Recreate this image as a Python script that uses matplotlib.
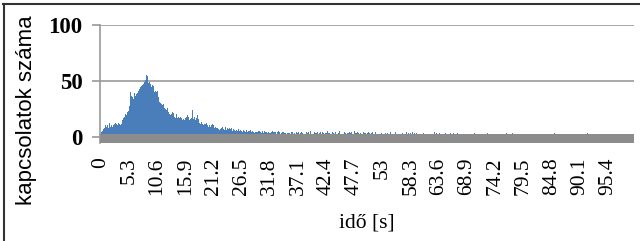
import numpy as np
import matplotlib
matplotlib.use("Agg")
from matplotlib import pyplot as plt
from matplotlib.lines import Line2D

# histogram of connection counts, one bin per 0.1 s
bin_width = 0.1
counts = [
    2, 4, 3, 5, 4, 7, 9, 8, 11, 10, 12, 9, 13, 10, 11, 8, 12, 10, 9, 11,
    10, 12, 9, 11, 10, 13, 11, 9, 12, 10, 11, 13, 10, 12, 9, 11, 12, 10, 13, 11,
    13, 15, 14, 17, 16, 18, 17, 20, 19, 21, 22, 24, 23, 30, 27, 33, 40, 34, 36, 32,
    35, 38, 34, 39, 37, 36, 40, 38, 35, 39, 37, 41, 40, 43, 42, 44, 41, 45, 43, 46,
    47, 50, 49, 53, 51, 57, 55, 52, 54, 50, 48, 46, 49, 45, 47, 44, 48, 46, 43, 45,
    42, 40, 38, 41, 39, 40, 37, 41, 38, 35, 33, 31, 30, 32, 29, 33, 28, 31, 29, 27,
    26, 24, 25, 22, 24, 23, 26, 22, 21, 20, 22, 19, 21, 20, 18, 22, 19, 21, 20, 18,
    19, 17, 20, 18, 17, 16, 18, 15, 17, 16, 18, 15, 17, 16, 15, 17, 16, 18, 15, 17,
    16, 18, 17, 19, 16, 18, 17, 15, 19, 16, 14, 17, 15, 24, 16, 14, 18, 13, 15, 16,
    17, 14, 19, 15, 16, 13, 12, 13, 11, 12, 13, 11, 12, 10, 13, 11, 12, 11, 13, 12,
    11, 10, 12, 9, 11, 10, 9, 11, 10, 8, 11, 9, 10, 9, 8, 10, 9, 11, 8, 9,
    8, 7, 9, 6, 8, 7, 6, 8, 7, 9, 6, 7, 8, 6, 7, 9, 7, 6, 8, 7,
    7, 6, 8, 5, 7, 6, 8, 7, 5, 6, 7, 8, 6, 5, 7, 6, 7, 5, 6, 7,
    6, 5, 7, 6, 13, 5, 6, 4, 5, 6, 5, 7, 4, 5, 6, 5, 4, 6, 5, 4,
    5, 4, 6, 5, 4, 5, 6, 4, 5, 3, 5, 4, 6, 4, 5, 4, 3, 5, 4, 5,
    4, 5, 3, 4, 5, 4, 3, 4, 5, 3, 4, 3, 4, 5, 3, 4, 4, 3, 5, 3,
    3, 4, 3, 5, 3, 4, 2, 4, 3, 4, 3, 2, 4, 3, 5, 3, 4, 3, 2, 4,
    3, 2, 4, 3, 4, 2, 3, 5, 3, 2, 4, 3, 2, 3, 4, 3, 5, 2, 3, 4,
    2, 4, 3, 2, 3, 5, 2, 3, 4, 2, 3, 2, 4, 3, 2, 5, 3, 2, 4, 3,
    3, 2, 4, 2, 3, 2, 3, 4, 2, 3, 2, 4, 3, 2, 3, 5, 2, 3, 2, 4,
    2, 3, 4, 2, 3, 8, 3, 2, 4, 3, 2, 3, 2, 4, 3, 2, 3, 4, 2, 3,
    3, 2, 4, 3, 2, 3, 2, 5, 3, 2, 3, 4, 2, 3, 2, 3, 4, 2, 3, 2,
    2, 3, 4, 2, 3, 2, 4, 3, 2, 5, 3, 2, 3, 2, 4, 2, 3, 2, 3, 4,
    3, 2, 2, 4, 3, 2, 3, 2, 4, 2, 3, 2, 4, 3, 2, 2, 3, 5, 2, 3,
    2, 3, 2, 4, 2, 3, 2, 2, 4, 3, 2, 3, 2, 2, 4, 2, 3, 2, 3, 2,
    2, 2, 3, 2, 4, 2, 3, 2, 2, 3, 2, 4, 2, 2, 3, 2, 2, 4, 2, 2,
    3, 2, 2, 4, 2, 3, 2, 2, 3, 2, 2, 4, 2, 3, 2, 2, 3, 2, 2, 3,
    2, 2, 3, 2, 2, 4, 2, 2, 3, 2, 2, 2, 3, 2, 4, 2, 2, 3, 2, 2,
    2, 3, 2, 2, 2, 4, 2, 2, 3, 2, 2, 2, 3, 2, 2, 4, 2, 2, 2, 3,
    2, 2, 2, 3, 2, 2, 4, 2, 2, 2, 3, 2, 2, 2, 3, 2, 2, 4, 2, 2,
    2, 2, 3, 2, 2, 2, 2, 3, 2, 2, 4, 2, 2, 2, 3, 2, 2, 2, 2, 3,
    2, 2, 2, 3, 2, 2, 2, 2, 4, 2, 2, 2, 3, 2, 2, 2, 2, 3, 2, 2,
    2, 2, 3, 2, 2, 2, 2, 2, 3, 2, 2, 2, 2, 4, 2, 2, 2, 2, 3, 2,
    2, 2, 2, 2, 3, 2, 1, 2, 2, 2, 1, 3, 2, 2, 1, 2, 2, 2, 3, 2,
    2, 1, 2, 2, 2, 4, 2, 2, 1, 2, 2, 2, 1, 3, 2, 2, 1, 2, 2, 2,
    1, 2, 2, 3, 2, 1, 2, 2, 2, 1, 2, 2, 1, 2, 2, 3, 2, 1, 2, 2,
    2, 1, 2, 2, 1, 2, 2, 3, 2, 1, 2, 2, 1, 2, 2, 1, 2, 2, 3, 2,
    1, 2, 2, 1, 2, 2, 1, 2, 2, 3, 2, 1, 2, 2, 1, 2, 2, 1, 2, 2,
    2, 1, 2, 3, 2, 1, 2, 2, 1, 2, 2, 1, 2, 2, 1, 3, 2, 1, 2, 2,
    1, 2, 2, 1, 2, 2, 1, 2, 2, 1, 2, 2, 3, 2, 1, 2, 2, 1, 2, 2,
    2, 1, 2, 2, 1, 2, 2, 1, 2, 2, 1, 2, 2, 1, 2, 2, 1, 2, 2, 1,
    2, 2, 1, 2, 3, 2, 1, 2, 2, 1, 2, 2, 1, 2, 2, 1, 2, 2, 1, 2,
    1, 2, 2, 1, 2, 2, 1, 2, 2, 1, 2, 2, 1, 2, 3, 2, 1, 2, 2, 1,
    2, 1, 2, 2, 1, 2, 2, 1, 2, 2, 1, 2, 2, 1, 2, 2, 1, 2, 2, 1,
    1, 2, 2, 1, 2, 2, 1, 2, 2, 1, 2, 2, 1, 2, 2, 1, 2, 2, 1, 2,
    2, 1, 2, 2, 1, 2, 2, 1, 2, 2, 1, 2, 2, 1, 2, 2, 3, 2, 1, 2,
    2, 2, 3, 2, 1, 2, 2, 1, 2, 2, 1, 2, 2, 1, 2, 2, 1, 2, 2, 1,
    1, 2, 2, 1, 2, 2, 1, 2, 2, 1, 2, 2, 1, 2, 2, 1, 2, 2, 1, 2,
    2, 1, 2, 2, 1, 2, 2, 1, 2, 2, 1, 2, 2, 1, 2, 2, 1, 2, 2, 1,
    1, 2, 2, 1, 2, 2, 1, 2, 2, 1, 2, 2, 1, 2, 2, 1, 2, 2, 1, 2,
    2, 1, 2, 2,
]
label_every = 53  # Excel shows every 53rd category label
y_ticks = [0, 50, 100]
x_label = "idő [s]"
y_label = "kapcsolatok száma"

idx = np.arange(len(counts))
times = idx * bin_width

fig = plt.figure(figsize=(6.4, 2.41), dpi=100)
ax = fig.add_axes([0.157, 0.405, 0.834, 0.4925])

ax.bar(idx, counts, width=1.0, color="#4a7ebb", linewidth=0, zorder=2)
# grey floor band under the bars
ax.axhspan(-6, 2.2, color="#8c8c8c", lw=0, zorder=3)

ax.set_xlim(-0.5, len(counts) - 0.5)
ax.set_ylim(-6, 100)
ax.set_yticks(y_ticks)
ax.set_yticklabels([str(v) for v in y_ticks], family="Liberation Serif", fontsize=16.5,
                   fontweight="bold")
ax.yaxis.grid(True, color="#9a9a9a", lw=1.2, zorder=0)
ax.set_axisbelow(True)

tick_pos = idx[::label_every]
ax.set_xticks(tick_pos)
ax.set_xticklabels(["%g" % round(times[i], 1) for i in tick_pos], rotation=90,
                   family="Liberation Serif", fontsize=15.5)
ax.tick_params(axis="x", length=0, pad=10)
ax.tick_params(axis="y", length=6, width=1.2, color="#9a9a9a", pad=7)

for s in ["top", "right", "bottom"]:
    ax.spines[s].set_visible(False)
ax.spines["left"].set_color("#9a9a9a")
ax.spines["left"].set_linewidth(1.2)

fig.text(367 / 640, 1 - 223 / 241, x_label, family="Liberation Serif", fontsize=15.5,
         ha="center", va="center")
fig.text(27 / 640, 1 - 110 / 241, y_label, family="Liberation Sans", fontsize=16,
         rotation=90, ha="center", va="center")

# outer frame (top and left edge visible in the picture)
fig.add_artist(Line2D([3 / 640, 1], [1 - 4 / 241, 1 - 4 / 241], color="#333333", lw=1.5,
                      transform=fig.transFigure))
fig.add_artist(Line2D([4 / 640, 4 / 640], [0, 1 - 4 / 241], color="#333333", lw=1.5,
                      transform=fig.transFigure))

fig.savefig("out.png", dpi=100)
